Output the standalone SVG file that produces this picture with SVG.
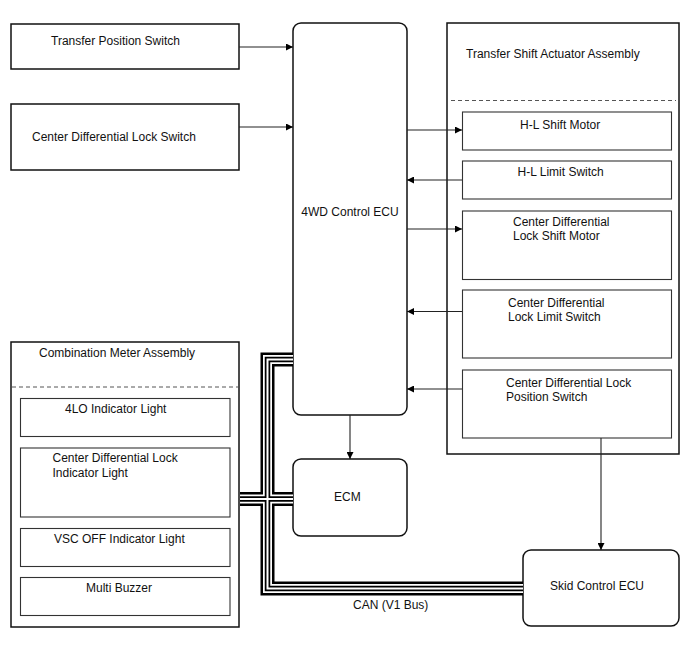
<svg xmlns="http://www.w3.org/2000/svg" xmlns:xlink="http://www.w3.org/1999/xlink" width="688" height="658" viewBox="0 0 688 658">
<style>
  text { font-family: "Liberation Sans", Arial, sans-serif; font-size: 12px; fill: #111; }
  .outer { fill: #fff; stroke: #111; stroke-width: 1.5; }
  .inner { fill: #fff; stroke: #333; stroke-width: 1.1; }
  .dash { stroke: #555; stroke-width: 1; stroke-dasharray: 4 3; fill: none; }
  .arrow { stroke: #222; stroke-width: 1.1; fill: none; marker-end: url(#ah); }
  .b1 { stroke: #000; stroke-width: 14; fill: none; }
  .b2 { stroke: #fff; stroke-width: 9; fill: none; }
  .b3 { stroke: #000; stroke-width: 5.5; fill: none; }
  .b4 { stroke: #fff; stroke-width: 2; fill: none; }
</style>
<defs>
  <marker id="ah" viewBox="0 0 10 10" refX="10" refY="5" markerWidth="10" markerHeight="7" markerUnits="userSpaceOnUse" orient="auto">
    <path d="M0,0 L10,5 L0,10 z" fill="#000"/>
  </marker>
  <path id="bus" d="M293,359.5 H267.5 V588.5 H523 M240,499 H293"/>
</defs>
<rect width="688" height="658" fill="#fff"/>

<g id="transfer-position-switch">
  <rect class="outer" x="11" y="24" width="228" height="45"/>
  <text x="51" y="45">Transfer Position Switch</text>
</g>

<g id="center-diff-lock-switch">
  <rect class="outer" x="11" y="104" width="228" height="66"/>
  <text x="32" y="141">Center Differential Lock Switch</text>
</g>

<g id="ecu-4wd">
  <rect class="outer" x="293" y="23" width="114" height="392" rx="8"/>
  <text x="350" y="216" text-anchor="middle">4WD Control ECU</text>
</g>

<g id="transfer-shift-actuator">
  <rect class="outer" x="447" y="23" width="232" height="431"/>
  <text x="466" y="58">Transfer Shift Actuator Assembly</text>
  <line class="dash" x1="451" y1="100.5" x2="676" y2="100.5"/>
</g>

<g id="hl-shift-motor">
  <rect class="inner" x="462.5" y="112" width="209" height="38"/>
  <text x="520" y="129">H-L Shift Motor</text>
</g>

<g id="hl-limit-switch">
  <rect class="inner" x="462.5" y="161" width="209" height="38"/>
  <text x="517.5" y="176">H-L Limit Switch</text>
</g>

<g id="cdl-shift-motor">
  <rect class="inner" x="462.5" y="211" width="209" height="68.5"/>
  <text x="513" y="226">Center Differential</text>
  <text x="513" y="240">Lock Shift Motor</text>
</g>

<g id="cdl-limit-switch">
  <rect class="inner" x="462.5" y="290" width="209" height="68"/>
  <text x="508" y="306.5">Center Differential</text>
  <text x="508" y="320.5">Lock Limit Switch</text>
</g>

<g id="cdl-position-switch">
  <rect class="inner" x="462.5" y="370" width="209" height="68"/>
  <text x="506" y="387">Center Differential Lock</text>
  <text x="506" y="401">Position Switch</text>
</g>

<g id="ecm">
  <rect class="outer" x="293" y="459" width="114" height="77" rx="8"/>
  <text x="334" y="501">ECM</text>
</g>

<g id="skid-control-ecu">
  <rect class="outer" x="523" y="550" width="156" height="76" rx="8"/>
  <text x="550" y="590">Skid Control ECU</text>
</g>

<g id="combination-meter">
  <rect class="outer" x="11" y="342" width="228" height="285"/>
  <text x="39" y="357">Combination Meter Assembly</text>
  <line class="dash" x1="12" y1="387" x2="238" y2="387"/>
</g>

<g id="lo4-indicator">
  <rect class="inner" x="20.5" y="398.5" width="209.5" height="38"/>
  <text x="65" y="413">4LO Indicator Light</text>
</g>

<g id="cdl-indicator">
  <rect class="inner" x="20.5" y="448" width="209.5" height="69"/>
  <text x="52.5" y="462">Center Differential Lock</text>
  <text x="52.5" y="476.5">Indicator Light</text>
</g>

<g id="vsc-off-indicator">
  <rect class="inner" x="20.5" y="528.5" width="209.5" height="38"/>
  <text x="54" y="543">VSC OFF Indicator Light</text>
</g>

<g id="multi-buzzer">
  <rect class="inner" x="20.5" y="577.5" width="209.5" height="38"/>
  <text x="86" y="592">Multi Buzzer</text>
</g>

<g id="connectors">
  <g id="can-bus">
    <use xlink:href="#bus" class="b1"/>
    <use xlink:href="#bus" class="b2"/>
    <use xlink:href="#bus" class="b3"/>
    <use xlink:href="#bus" class="b4"/>
  </g>
  <text x="353" y="609">CAN (V1 Bus)</text>
  <line class="arrow" x1="239" y1="47" x2="293" y2="47"/>
  <line class="arrow" x1="239" y1="127" x2="293" y2="127"/>
  <line class="arrow" x1="407" y1="130" x2="462" y2="130"/>
  <line class="arrow" x1="462" y1="180" x2="407" y2="180"/>
  <line class="arrow" x1="407" y1="229" x2="462" y2="229"/>
  <line class="arrow" x1="462" y1="311.5" x2="407" y2="311.5"/>
  <line class="arrow" x1="462" y1="389" x2="407" y2="389"/>
  <line class="arrow" x1="350" y1="415" x2="350" y2="459"/>
  <line class="arrow" x1="601" y1="438" x2="601" y2="550"/>
</g>
</svg>
